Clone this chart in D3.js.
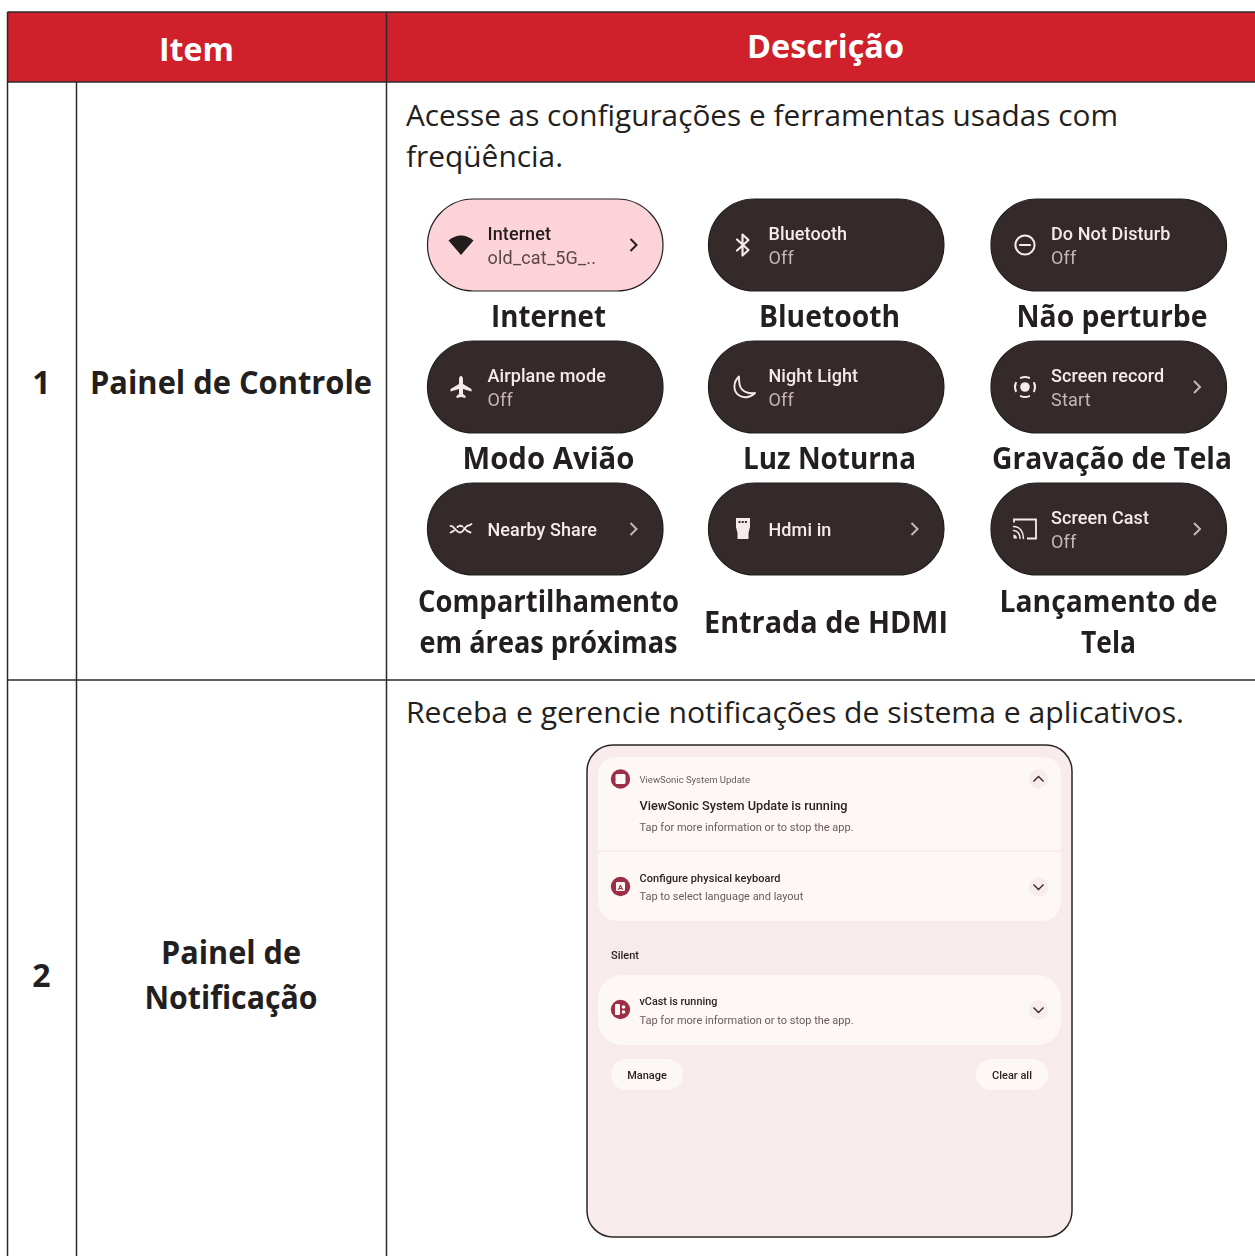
<!DOCTYPE html>
<html><head><meta charset="utf-8">
<script src="https://cdn.jsdelivr.net/npm/d3@7/dist/d3.min.js"></script>
<style>html,body{margin:0;padding:0;background:#fff;overflow:hidden}svg{display:block}
text{font-family:"Open Sans","Noto Sans",sans-serif}
text.ui{font-family:Roboto,sans-serif}</style></head><body>
<script>
const headers = ["Item", "Descrição"];
const rowNumbers = ["1", "2"];
const rowNames = [["Painel de Controle"], ["Painel de", "Notificação"]];
const rowIntro = [["Acesse as configurações e ferramentas usadas com", "freqüência."],
                  ["Receba e gerencie notificações de sistema e aplicativos."]];
const tileIcons = ["wifi","bt","dnd","plane","moon","rec","share","hdmi","cast"];
const tileTitles = ["Internet","Bluetooth","Do Not Disturb","Airplane mode","Night Light","Screen record","Nearby Share","Hdmi in","Screen Cast"];
const tileSubs = ["old_cat_5G_..","Off","Off","Off","Off","Start","","","Off"];
const tileChevron = [1,0,0,0,0,1,1,1,1];
const tileCaptions = [["Internet"],["Bluetooth"],["Não perturbe"],["Modo Avião"],["Luz Noturna"],["Gravação de Tela"],
  ["Compartilhamento","em áreas próximas"],["Entrada de HDMI"],["Lançamento de","Tela"]];
const notifTexts = {app:"ViewSonic System Update",title:"ViewSonic System Update is running",body:"Tap for more information or to stop the app.",
  kb:"Configure physical keyboard",kbBody:"Tap to select language and layout",silent:"Silent",vcast:"vCast is running",manage:"Manage",clear:"Clear all"};
// measured rendered widths of the document text (style, not data)
const fitWidths = new Map([["Item",75],["Descrição",157],["Painel de Controle",282],["Painel de",140],["Notificação",173],
 ["Acesse as configurações e ferramentas usadas com",712],["freqüência.",157],["Receba e gerencie notificações de sistema e aplicativos.",778],
 ["Internet",115],["Bluetooth",141],["Não perturbe",191],["Modo Avião",172],["Luz Noturna",173],["Gravação de Tela",240],
 ["Compartilhamento",261],["em áreas próximas",258],["Entrada de HDMI",244],["Lançamento de",218],["Tela",55]]);

const W=1255,H=1256;
const svg=d3.select("body").append("svg").attr("width",W).attr("height",H);
const defs=svg.append("defs");
defs.append("filter").attr("id","soft").attr("x","-5%").attr("y","-5%").attr("width","110%").attr("height","110%")
  .append("feGaussianBlur").attr("stdDeviation",0.35);
const INK="#231f20",RED="#cf202c",LINE="#2c2a2b";
const colX=d3.scaleOrdinal().domain([0,1,2,3]).range([7.5,76.5,386.5,1262]);
svg.append("rect").attr("x",colX(0)).attr("y",12).attr("width",W).attr("height",70).attr("fill",RED);
const hl=(x1,y1,x2,y2,c=LINE,w=1.5)=>svg.append("line").attr("x1",x1).attr("y1",y1).attr("x2",x2).attr("y2",y2).attr("stroke",c).attr("stroke-width",w);
hl(colX(0),12,W,12);hl(colX(0),82,W,82);hl(colX(0),680,W,680);
hl(colX(0),12,colX(0),H);hl(colX(1),82,colX(1),H);hl(colX(2),12,colX(2),H);

function txt(g,s,x,y,size,opt={}){
  const t=g.append("text").attr("x",x).attr("y",y).attr("font-size",size).attr("fill",opt.fill||INK)
    .attr("font-weight",opt.w||400).attr("text-anchor",opt.a||"start").text(s);
  if(opt.cls)t.attr("class",opt.cls);
  if(opt.fit&&fitWidths.has(s))t.attr("textLength",fitWidths.get(s)).attr("lengthAdjust","spacingAndGlyphs");
  return t;
}
txt(svg,headers[0],196.5,61,33,{w:700,a:"middle",fill:"#fff",fit:1});
txt(svg,headers[1],825.5,58,33,{w:700,a:"middle",fill:"#fff",fit:1});
const rowBase=[394,987];
rowNumbers.forEach((n,i)=>txt(svg,n,41.5,rowBase[i],32,{w:700,a:"middle"}));
txt(svg,rowNames[0][0],231,394,32,{w:700,a:"middle",fit:1});
rowNames[1].forEach((s,i)=>txt(svg,s,231,964+i*45,32,{w:700,a:"middle",fit:1}));
rowIntro[0].forEach((s,i)=>txt(svg,s,406,126+i*41,30,{fit:1}));
txt(svg,rowIntro[1][0],406,723,30,{fit:1});

// tiles
const tileX=[427.5,708.5,991],tileY=[199,341,483],TW=235.5,TH=92;
const capX=[548.5,829.5,1112],capBase=[327,469,612];
const shots=svg.append("g").attr("filter","url(#soft)");
const caps=svg.append("g");
function icon(p,name,cx,cy,c){
  const s={fill:"none",stroke:c,"stroke-width":2.2,"stroke-linecap":"round","stroke-linejoin":"round"};
  const P=(d,st=s)=>{const e=p.append("path").attr("d",d).attr("transform",`translate(${cx},${cy})`);Object.entries(st).forEach(([k,v])=>e.attr(k,v));return e;};
  const F={fill:c,stroke:"none"};
  if(name==="wifi")P("M-12.5,-4.5Q0,-14.5 12.5,-4.5L0,10Z",F);
  if(name==="bt")P("M-6,-5.5L5.5,5L-0.5,10.5V-10.5L5.5,-5L-6,5.5",{...s,"stroke-width":2.2});
  if(name==="dnd"){p.append("circle").attr("cx",cx).attr("cy",cy).attr("r",9.6).attr("fill","none").attr("stroke",c).attr("stroke-width",2);P("M-5,0H5");}
  if(name==="plane")P("M0,-11C1.5,-11 2,-9 2,-7V-3L10.5,2V4.5L2,2V7L4.5,9V11L0,10L-4.5,11V9L-2,7V2L-10.5,4.5V2L-2,-3V-7C-2,-9 -1.5,-11 0,-11Z",F);
  if(name==="moon")P("M-4,-10.5C-10,-5 -10,4 -4.5,8C0,11.5 7,11 12,6C6,7 -1,5 -3,-1C-4,-4 -4,-8 -4,-10.5Z",{...s,"stroke-width":1.9});
  if(name==="rec"){p.append("circle").attr("cx",cx).attr("cy",cy).attr("r",4.8).attr("fill",c);
    const arc=d3.arc().innerRadius(9).outerRadius(11).cornerRadius(0.8);
    [[-0.52,0.52],[1.05,2.1],[2.62,3.66],[4.19,5.24]].forEach(a=>P(arc({startAngle:a[0],endAngle:a[1]}),F));}
  if(name==="share"){P("M-10.5,-3C-7,-4 -5.5,3.5 -1,3.5C3,3.5 4,-3.5 7,-3.5",{...s,"stroke-width":1.8});
    P("M-10.5,3.5C-9,3 -8,2.5 -7,1.5M-3.5,-2C-2,-3.5 0,-3.5 1.5,-2.5M3,-1C5,1.5 7,3 9.5,3.5M8,-3.5L10.5,-5",{...s,"stroke-width":1.8});}
  if(name==="hdmi"){P("M-7,-11H7V-2L5.5,4V10H-5.5V4L-7,-2Z",F);P("M-4.5,-7H4.5",{stroke:"#342a2c","stroke-width":2,"stroke-dasharray":"2 1.2",fill:"none"});}
  if(name==="cast"){P("M-11,-6.5V-9.5H11V9.5H2",{...s,"stroke-width":1.8,"stroke-linecap":"butt","stroke-linejoin":"miter"});
    P("M-11.5,-2.5C-5,-2.5 -1.5,3 -1.5,9.5M-11.5,1.5C-7.5,1.5 -5,5 -5,9.5",{...s,"stroke-width":1.5});P("M-11.5,5.5A4,4 0 0 1 -8,9.5H-11.5Z",F);}
}
tileTitles.forEach((t,i)=>{
  const c=i%3,r=Math.floor(i/3),x=tileX[c],y=tileY[r];
  const pink=i===0;
  const p=shots.append("g");
  p.append("rect").attr("x",x).attr("y",y).attr("width",TW).attr("height",TH).attr("rx",46).attr("fill",pink?"#fbd3d8":"#342a2c").attr("stroke","#231f20").attr("stroke-width",1.2);
  const fg=pink?"#241a1b":"#f5ebea",sub=pink?"#5a4648":"#c9b6b5";
  icon(p,tileIcons[i],x+(c===0?33.5:c===1?34.5:34),y+46,fg);
  const tx=x+60;
  if(tileSubs[i]){
    txt(p,t,tx,y+41,18,{fill:fg,cls:"ui",w:500}).style("letter-spacing","0.1px");
    txt(p,tileSubs[i],tx,y+65,18,{fill:sub,cls:"ui"}).style("letter-spacing","0.2px");
  } else txt(p,t,tx,y+53,18,{fill:fg,cls:"ui",w:500}).style("letter-spacing","0.1px");
  if(tileChevron[i])p.append("path").attr("d",`M${x+203},${y+40}l6,6l-6,6`).attr("fill","none").attr("stroke",pink?"#241a1b":"#c9b6b5").attr("stroke-width",2);
  const cap=tileCaptions[i];
  const bx=i===7?826:i===8?1108.5:capX[c];
  const by=i===7?633:capBase[r];
  cap.forEach((s,k)=>txt(caps,s,bx,by+k*41,30.5,{w:700,a:"middle",fit:1}));
});

// notification panel
const n=shots.append("g");
n.append("rect").attr("x",587).attr("y",745).attr("width",485).attr("height",492).attr("rx",26).attr("fill","#f7ebeb").attr("stroke","#2a2627").attr("stroke-width",1.5);
const CARD="#fdf8f5";
const rr=(x,y,w,h,a,b)=>`M${x+a},${y}H${x+w-a}Q${x+w},${y} ${x+w},${y+a}V${y+h-b}Q${x+w},${y+h} ${x+w-b},${y+h}H${x+b}Q${x},${y+h} ${x},${y+h-b}V${y+a}Q${x},${y} ${x+a},${y}Z`;
n.append("path").attr("d",rr(598,757,463,93.5,20,3)).attr("fill",CARD);
n.append("path").attr("d",rr(598,852,463,69,3,22)).attr("fill",CARD);
n.append("rect").attr("x",598).attr("y",975).attr("width",463).attr("height",70).attr("rx",24).attr("fill",CARD);
const dot=(cy)=>n.append("circle").attr("cx",620.5).attr("cy",cy).attr("r",9.7).attr("fill","#9d2f47");
dot(779);n.append("rect").attr("x",615.5).attr("y",774).attr("width",10).attr("height",10).attr("rx",1.5).attr("fill",CARD);
dot(886.5);n.append("rect").attr("x",616).attr("y",882).attr("width",9).attr("height",9).attr("rx",1).attr("fill",CARD);
n.append("text").attr("x",620.5).attr("y",890).attr("text-anchor","middle").attr("font-size",8).attr("class","ui").attr("font-weight",700).attr("fill","#9d2f47").text("A");
dot(1009.5);n.append("rect").attr("x",615).attr("y",1004).attr("width",5).attr("height",11).attr("rx",1).attr("fill",CARD);
n.append("circle").attr("cx",623.5).attr("cy",1007).attr("r",1.8).attr("fill",CARD);n.append("circle").attr("cx",623.5).attr("cy",1012).attr("r",1.8).attr("fill",CARD);
const chev=(cy,up)=>{n.append("circle").attr("cx",1038.5).attr("cy",cy).attr("r",9.7).attr("fill","#f7ebeb");
  n.append("path").attr("d",up?`M1033.5,${cy+2.5}l5,-5l5,5`:`M1033.5,${cy-2.5}l5,5l5,-5`).attr("fill","none").attr("stroke","#2a2224").attr("stroke-width",1.3);};
chev(779,true);chev(887,false);chev(1010,false);
const DK="#2a2224",MID="#6a5a5c";
txt(n,notifTexts.app,639.5,783,9.5,{fill:MID,cls:"ui"});
txt(n,notifTexts.title,639.5,810,12.7,{fill:DK,cls:"ui",w:500});
txt(n,notifTexts.body,639.5,831,11,{fill:MID,cls:"ui"});
txt(n,notifTexts.kb,639.5,881.5,11,{fill:DK,cls:"ui",w:500}).attr("textLength",141);
txt(n,notifTexts.kbBody,639.5,900,11,{fill:MID,cls:"ui"});
txt(n,notifTexts.silent,611,959,11,{fill:DK,cls:"ui",w:500});
txt(n,notifTexts.vcast,639.5,1004.5,10.8,{fill:DK,cls:"ui",w:500});
txt(n,notifTexts.body,639.5,1023.5,11,{fill:MID,cls:"ui"});
[[611,72,notifTexts.manage],[976,72,notifTexts.clear]].forEach(([x,w,s])=>{
  n.append("rect").attr("x",x).attr("y",1059).attr("width",w).attr("height",31).attr("rx",15.5).attr("fill",CARD);
  txt(n,s,x+w/2,1079,11,{fill:DK,cls:"ui",w:500,a:"middle"});
});
</script></body></html>
